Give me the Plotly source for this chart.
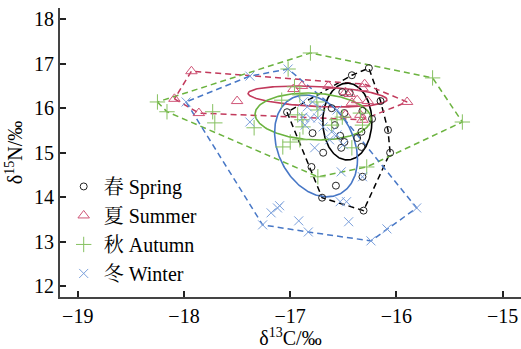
import numpy as np
import plotly.graph_objects as go

# ---------------- data ----------------
seasons = ["春 Spring", "夏 Summer", "秋 Autumn", "冬 Winter"]

spring_x = [-16.26, -16.42, -17.03, -16.70, -16.31, -16.06, -16.08, -16.15, -16.51, -16.44,
            -16.32, -16.49, -16.23, -16.79, -16.58, -16.53, -16.33, -16.49, -16.69, -16.52,
            -16.33, -16.80, -16.57, -16.32, -16.61, -16.37]
spring_y = [16.90, 16.74, 15.91, 13.99, 13.70, 15.00, 15.51, 16.16, 16.36, 16.34,
            15.94, 15.89, 15.76, 15.44, 15.62, 15.38, 15.47, 15.24, 15.00, 15.11,
            15.13, 14.68, 14.26, 14.46, 16.00, 15.33]

summer_x = [-17.93, -18.09, -17.86, -17.50, -16.97, -16.89, -16.64, -16.48, -16.44, -16.37,
            -16.32, -16.30, -16.42, -16.34, -16.32, -15.90, -16.27, -16.48]
summer_y = [16.83, 16.21, 15.89, 16.16, 16.43, 16.50, 16.50, 16.36, 16.32, 16.18,
            16.45, 16.54, 16.12, 15.85, 15.74, 16.14, 16.16, 15.85]

autumn_x = [-18.25, -18.16, -16.74, -16.28, -15.38, -15.66, -16.81, -17.73, -17.71, -17.34,
            -17.08, -17.07, -17.00, -17.02, -16.91, -16.89, -16.75, -16.56, -16.34, -16.91,
            -16.96, -16.93, -16.88, -16.74, -16.61, -16.51, -16.32, -16.42]
autumn_y = [16.14, 15.92, 14.46, 14.68, 15.69, 16.68, 17.24, 15.92, 15.67, 15.56,
            16.18, 15.13, 15.24, 16.88, 16.30, 15.74, 16.14, 15.74, 15.89, 15.29,
            16.48, 15.85, 15.58, 15.96, 15.62, 15.80, 15.62, 15.11]

winter_x = [-17.98, -17.38, -17.02, -15.81, -16.09, -16.24, -16.83, -17.26, -17.38, -17.18,
            -17.12, -17.10, -16.92, -16.45, -16.52, -16.53, -16.47, -16.32, -16.88, -16.79,
            -16.72, -16.88, -16.81, -16.74, -16.69, -16.56, -16.84, -16.61, -16.77, -16.50,
            -16.63, -16.86, -16.56]
winter_y = [16.14, 16.72, 16.88, 13.76, 13.29, 13.02, 13.22, 13.38, 15.69, 13.65,
            13.76, 13.81, 13.47, 13.45, 14.57, 13.90, 13.90, 14.46, 16.14, 16.14,
            16.00, 15.80, 15.78, 15.78, 15.58, 15.40, 16.03, 15.47, 15.11, 15.18,
            15.29, 15.62, 15.96]

# standard ellipse parameters (centre, half-extent in x / y, correlation)
ellipse_cx = [-16.463, -16.743, -16.785, -16.757]
ellipse_cy = [15.70, 16.262, 15.814, 15.152]
ellipse_sx = [0.231, 0.654, 0.546, 0.390]
ellipse_sy = [0.863, 0.235, 0.527, 1.143]
ellipse_rho = [0.0, -0.30, -0.10, -0.265]

x_ticks = [-19, -18, -17, -16, -15]
y_ticks = [12, 13, 14, 15, 16, 17, 18]

# ---------------- style ----------------
line_colors = ["#000000", "#C23A5C", "#6BB33F", "#4777C6"]
marker_colors = ["#222222", "#CF5577", "#86C160", "#7A9FDB"]
symbols = ["circle-open", "triangle-up-open", "cross-thin-open", "x-thin-open"]
msizes = [7, 10, 11, 9]
FONT = "Liberation Serif, 'Times New Roman', 'Noto Serif CJK SC', 'Noto Sans CJK SC', serif"


def convex_hull(xs, ys):
    pts = sorted(set(zip(xs, ys)))
    if len(pts) < 3:
        return pts

    def cross(o, a, b):
        return (a[0] - o[0]) * (b[1] - o[1]) - (a[1] - o[1]) * (b[0] - o[0])

    lower, upper = [], []
    for p in pts:
        while len(lower) >= 2 and cross(lower[-2], lower[-1], p) <= 0:
            lower.pop()
        lower.append(p)
    for p in reversed(pts):
        while len(upper) >= 2 and cross(upper[-2], upper[-1], p) <= 0:
            upper.pop()
        upper.append(p)
    return lower[:-1] + upper[:-1]


fig = go.Figure()
all_x = [spring_x, summer_x, autumn_x, winter_x]
all_y = [spring_y, summer_y, autumn_y, winter_y]

# hulls
for i in range(4):
    h = convex_hull(all_x[i], all_y[i])
    hx = [p[0] for p in h] + [h[0][0]]
    hy = [p[1] for p in h] + [h[0][1]]
    fig.add_trace(go.Scatter(x=hx, y=hy, mode="lines", showlegend=False, hoverinfo="skip",
                             line=dict(color=line_colors[i], width=1.5, dash="6px,4px")))

# ellipses
t = np.linspace(0, 2 * np.pi, 200)
for i in range(4):
    r = ellipse_rho[i]
    ex = ellipse_cx[i] + ellipse_sx[i] * np.cos(t)
    ey = ellipse_cy[i] + ellipse_sy[i] * (r * np.cos(t) + np.sqrt(1 - r * r) * np.sin(t))
    fig.add_trace(go.Scatter(x=ex, y=ey, mode="lines", showlegend=False, hoverinfo="skip",
                             line=dict(color=line_colors[i], width=1.6)))

# points
for i in range(4):
    fig.add_trace(go.Scatter(x=all_x[i], y=all_y[i], mode="markers", name=seasons[i],
                             marker=dict(symbol=symbols[i], size=msizes[i], color=marker_colors[i],
                                         line=dict(width=1, color=marker_colors[i]))))

axis_common = dict(showgrid=False, zeroline=False, showline=True, linecolor="#444444", linewidth=2,
                   ticks="inside", ticklen=6, tickwidth=1.5, tickcolor="#222222",
                   tickfont=dict(family=FONT, size=20, color="black"))

fig.update_layout(
    width=521, height=349,
    margin=dict(l=60, r=0, t=8, b=52),
    paper_bgcolor="white", plot_bgcolor="white",
    font=dict(family=FONT, size=20, color="black"),
    xaxis=dict(range=[-19.167, -14.828], tickvals=x_ticks,
               title=dict(text="δ<sup>13</sup>C/‰", font=dict(family=FONT, size=20), standoff=4),
               **axis_common),
    yaxis=dict(range=[11.76, 18.25], tickvals=y_ticks,
               title=dict(text="δ<sup>15</sup>N/‰", font=dict(family=FONT, size=20), standoff=6),
               **axis_common),
    legend=dict(x=0.008, y=0.45, xanchor="left", yanchor="top", bgcolor="rgba(0,0,0,0)",
                font=dict(family=FONT, size=20, color="black"), tracegroupgap=0),
    showlegend=True,
)

fig.write_html("out.html")
